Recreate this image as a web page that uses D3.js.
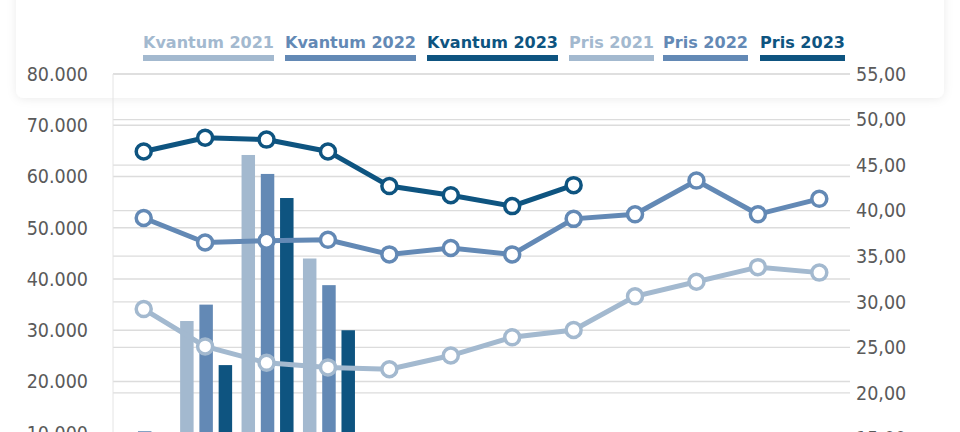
<!DOCTYPE html>
<html><head><meta charset="utf-8">
<script src="https://cdn.jsdelivr.net/npm/d3@7"></script>
<style>body{margin:0;background:#fff}svg{display:block}</style>
</head><body><svg id="c" width="960" height="432"></svg>
<script>
const months=["jan","feb","mar","apr","mai","jun","jul","aug","sep","okt","nov","des"];
const kvantum2021=[8000,31800,64200,44000];
const kvantum2022=[10300,35000,60500,38800];
const kvantum2023=[7000,23200,55800,30000];
const pris2021=[29.2,25.1,23.3,22.8,22.6,24.1,26.1,26.9,30.6,32.2,33.8,33.2];
const pris2022=[39.2,36.5,36.7,36.8,35.2,35.9,35.2,39.1,39.6,43.3,39.6,41.3];
const pris2023=[46.5,48.0,47.8,46.5,42.7,41.7,40.5,42.8];
const leftTicks=[0,10000,20000,30000,40000,50000,60000,70000,80000];
const rightTicks=[10,15,20,25,30,35,40,45,50,55];
const legendNames=["Kvantum 2021","Kvantum 2022","Kvantum 2023","Pris 2021","Pris 2022","Pris 2023"];
const colors=["#a3b9cf","#6389b5","#0e5480"];

const svg=d3.select("#c");
const defs=svg.append("defs");
const f=defs.append("filter").attr("id","sh").attr("x","-5%").attr("y","-20%").attr("width","110%").attr("height","140%");
f.append("feDropShadow").attr("dx",0).attr("dy",1).attr("stdDeviation",5).attr("flood-color","#000").attr("flood-opacity",0.08);
svg.append("rect").attr("x",16).attr("y",-20).attr("width",928).attr("height",118).attr("rx",8).attr("fill","#fff").attr("filter","url(#sh)");

const x=d3.scaleBand().domain(months).range([113,850]);
const yL=d3.scaleLinear().domain([0,80000]).range([484,74]);
const yR=d3.scaleLinear().domain([10,55]).range([484,74]);
const font="DejaVu Sans Condensed, DejaVu Sans";
const fmtL=d=>d3.format(",")(d).replace(/,/g,".");
const fmtR=d=>d3.format(".2f")(d).replace(".",",");

const g=svg.append("g");
g.selectAll(".gl").data(leftTicks).join("line").attr("x1",113).attr("x2",850)
  .attr("y1",d=>yL(d)).attr("y2",d=>yL(d)).attr("stroke","#dcdcdc").attr("stroke-width",1.3);
g.selectAll(".gr").data(rightTicks).join("line").attr("x1",113).attr("x2",850)
  .attr("y1",d=>yR(d)).attr("y2",d=>yR(d)).attr("stroke","#dcdcdc").attr("stroke-width",1.3);
g.append("line").attr("x1",113).attr("x2",113).attr("y1",74).attr("y2",484).attr("stroke","#e4e4e4");

const axL=d3.axisLeft(yL).tickValues(leftTicks).tickFormat(fmtL).tickSize(0).tickPadding(12);
const axR=d3.axisRight(yR).tickValues(rightTicks).tickFormat(fmtR).tickSize(0).tickPadding(0);
const gl=svg.append("g").attr("transform","translate(100,0)").call(axL);
const gr=svg.append("g").attr("transform","translate(856,0)").call(axR);
[gl,gr].forEach(a=>{a.select(".domain").remove();a.selectAll("text").attr("fill","#5a5a5a").attr("font-size",19.5).attr("font-family",font);});

const sub=d3.scaleBand().domain([0,1,2]).range([-25,27]).paddingInner(0.3);
[kvantum2021,kvantum2022,kvantum2023].forEach((arr,i)=>{
  g.selectAll(".b"+i).data(arr).join("rect")
   .attr("x",(d,j)=>x(months[j])+x.bandwidth()/2+sub(i)).attr("width",sub.bandwidth())
   .attr("y",d=>yL(d)).attr("height",d=>yL(0)-yL(d)).attr("fill",colors[i]);
});
[pris2021,pris2022,pris2023].forEach((arr,i)=>{
  const line=d3.line().x((d,j)=>x(months[j])+x.bandwidth()/2).y(d=>yR(d));
  g.append("path").attr("d",line(arr)).attr("fill","none").attr("stroke",colors[i]).attr("stroke-width",5);
  g.selectAll(".p"+i).data(arr).join("circle").attr("cx",(d,j)=>x(months[j])+x.bandwidth()/2)
   .attr("cy",d=>yR(d)).attr("r",7.5).attr("fill","#fff").attr("stroke",colors[i]).attr("stroke-width",3.5);
});

const lx=[143,285,427,569,663,760];
const lw=[131,131,131,85,85,85];
legendNames.forEach((n,i)=>{
  const c=colors[i%3];
  svg.append("text").attr("x",lx[i]).attr("y",48).attr("font-family",font).attr("font-weight","bold")
   .attr("font-size",16.5).attr("fill",c).text(n).attr("textLength",lw[i]).attr("lengthAdjust","spacingAndGlyphs");
  svg.append("rect").attr("x",lx[i]).attr("y",55).attr("width",lw[i]).attr("height",6).attr("fill",c);
});
</script></body></html>
